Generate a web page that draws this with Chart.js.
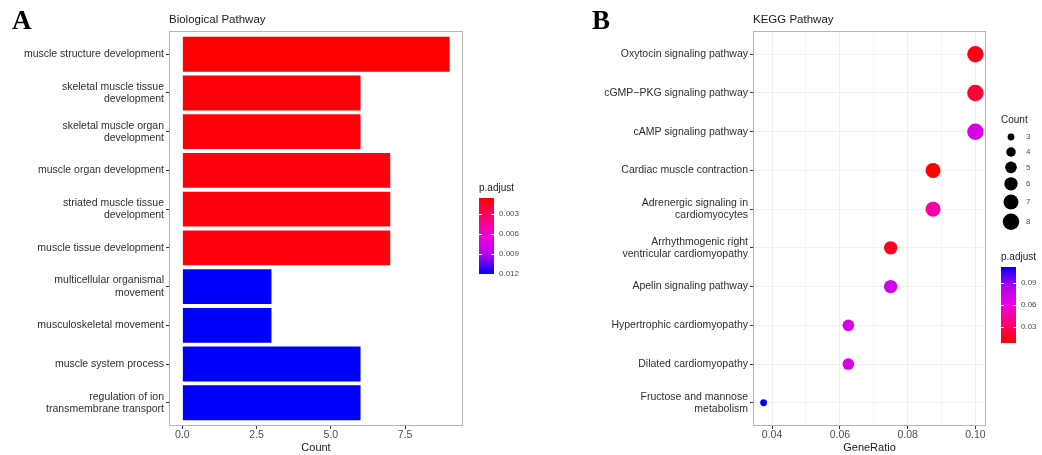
<!DOCTYPE html>
<html><head><meta charset="utf-8">
<script src="https://cdn.jsdelivr.net/npm/chart.js@4.4.1/dist/chart.umd.min.js"></script>
<style>
html,body{margin:0;padding:0;background:#fff;}
#wrap{position:relative;width:1042px;height:455px;overflow:hidden;background:#fff;}
canvas{position:absolute;top:0;}
</style></head><body>
<div id="wrap">
<canvas id="a" width="530" height="455" style="left:0;width:530px;height:455px"></canvas>
<canvas id="b" width="522" height="455" style="left:520px;width:522px;height:455px"></canvas>
</div>
<script>
// ---------- data: Biological Pathway ----------
const bpTerms = [
  "muscle structure development",
  ["skeletal muscle tissue", "development"],
  ["skeletal muscle organ", "development"],
  "muscle organ development",
  ["striated muscle tissue", "development"],
  "muscle tissue development",
  ["multicellular organismal", "movement"],
  "musculoskeletal movement",
  "muscle system process",
  ["regulation of ion", "transmembrane transport"]
];
const bpCount = [9, 6, 6, 7, 7, 7, 3, 3, 6, 6];
const bpPadj = [0.0006, 0.0008, 0.0008, 0.0009, 0.0009, 0.0009, 0.012, 0.012, 0.012, 0.012];
const bpCountTicks = [0, 2.5, 5, 7.5];
const bpPadjTicks = [0.003, 0.006, 0.009, 0.012];

// ---------- data: KEGG Pathway ----------
const keggTerms = [
  "Oxytocin signaling pathway",
  "cGMP\u2212PKG signaling pathway",
  "cAMP signaling pathway",
  "Cardiac muscle contraction",
  ["Adrenergic signaling in", "cardiomyocytes"],
  ["Arrhythmogenic right", "ventricular cardiomyopathy"],
  "Apelin signaling pathway",
  "Hypertrophic cardiomyopathy",
  "Dilated cardiomyopathy",
  ["Fructose and mannose", "metabolism"]
];
const keggRatio = [0.1, 0.1, 0.1, 0.0875, 0.0875, 0.075, 0.075, 0.0625, 0.0625, 0.0375];
const keggCount = [8, 8, 8, 7, 7, 6, 6, 5, 5, 3];
const keggPadj = [0.013, 0.02, 0.07, 0.008, 0.046, 0.015, 0.073, 0.07, 0.07, 0.112];
const keggRatioTicks = [0.04, 0.06, 0.08, 0.10];
const keggPadjTicks = [0.03, 0.06, 0.09];
const countLegend = [3, 4, 5, 6, 7, 8];

// ---------- helpers ----------
const FONT = '"Liberation Sans", Arial, sans-serif';
Chart.defaults.font.family = FONT;
const rampStops = [[0, [255, 0, 0]], [0.25, [255, 0, 112]], [0.5, [240, 0, 224]], [0.75, [176, 0, 240]], [1, [0, 0, 255]]];
function ramp(t) {
  t = Math.max(0, Math.min(1, t));
  for (let i = 1; i < rampStops.length; i++) {
    const [t1, c1] = rampStops[i];
    const [t0, c0] = rampStops[i - 1];
    if (t <= t1) {
      const f = (t - t0) / (t1 - t0);
      const c = c0.map((v, k) => Math.round(v + (c1[k] - v) * f));
      return `rgb(${c[0]},${c[1]},${c[2]})`;
    }
  }
  return 'rgb(0,0,255)';
}
function makeGradient(ctx, x, yLow, yHigh) {
  const g = ctx.createLinearGradient(x, yLow, x, yHigh);
  rampStops.forEach(([t]) => g.addColorStop(t, ramp(t)));
  return g;
}
const bpPmin = Math.min(...bpPadj), bpPmax = Math.max(...bpPadj);
const kgPmin = Math.min(...keggPadj), kgPmax = Math.max(...keggPadj);
const cMin = Math.min(...keggCount), cMax = Math.max(...keggCount);
const R_MIN = 3.4, R_MAX = 8.2;
function radius(c) {
  const a = R_MIN * R_MIN + (c - cMin) / (cMax - cMin) * (R_MAX * R_MAX - R_MIN * R_MIN);
  return Math.sqrt(a);
}
function drawBox(ctx, ca) {
  ctx.save();
  ctx.strokeStyle = '#b5b5b5';
  ctx.lineWidth = 1;
  ctx.strokeRect(Math.round(ca.left) + 0.5, Math.round(ca.top) + 0.5,
    Math.round(ca.right - ca.left) - 1, Math.round(ca.bottom - ca.top) - 1);
  ctx.restore();
}
function drawColorbar(ctx, x, top, h, pmin, pmax, ticks, lowAtTop, labX) {
  const w = 15;
  const yOf = p => lowAtTop ? top + (p - pmin) / (pmax - pmin) * h : top + (pmax - p) / (pmax - pmin) * h;
  ctx.fillStyle = lowAtTop ? makeGradient(ctx, x, top, top + h) : makeGradient(ctx, x, top + h, top);
  ctx.fillRect(x, top, w, h);
  ctx.strokeStyle = '#ffffff';
  ctx.lineWidth = 1;
  ctx.font = '8px ' + FONT;
  ctx.fillStyle = '#4d4d4d';
  ctx.textAlign = 'left';
  ctx.textBaseline = 'middle';
  ticks.forEach(p => {
    const y = Math.round(yOf(p)) + 0.5;
    ctx.beginPath();
    ctx.moveTo(x, y); ctx.lineTo(x + 3, y);
    ctx.moveTo(x + w - 3, y); ctx.lineTo(x + w, y);
    ctx.stroke();
    ctx.fillText(String(p), labX, yOf(p));
  });
}

// ---------- chart A ----------
const bpXmax = Math.max(...bpCount) * 1.05;
const bpXmin = -Math.max(...bpCount) * 0.05;
const decoA = {
  id: 'decoA',
  afterDraw(chart) {
    const ctx = chart.ctx, ca = chart.chartArea;
    drawBox(ctx, ca);
    ctx.save();
    ctx.fillStyle = '#000';
    ctx.textBaseline = 'alphabetic';
    ctx.textAlign = 'left';
    ctx.font = 'bold 27px "Liberation Serif", "Times New Roman", serif';
    ctx.fillText('A', 12, 29);
    ctx.font = '11.5px ' + FONT;
    ctx.fillStyle = '#1a1a1a';
    ctx.textBaseline = 'middle';
    ctx.fillText('Biological Pathway', ca.left, 20);
    ctx.font = '10px ' + FONT;
    ctx.fillText('p.adjust', 479, 188);
    drawColorbar(ctx, 479, 198, 76, bpPmin, bpPmax, bpPadjTicks, true, 499);
    ctx.restore();
  }
};
new Chart(document.getElementById('a'), {
  type: 'bar',
  data: {
    datasets: [{
      data: bpCount.map((c, i) => ({ x: c, y: i })),
      backgroundColor: bpPadj.map(p => ramp((p - bpPmin) / (bpPmax - bpPmin))),
      borderWidth: 0,
      barPercentage: 0.9,
      categoryPercentage: 1
    }]
  },
  options: {
    indexAxis: 'y',
    responsive: false,
    animation: false,
    events: [],
    layout: { padding: { left: 0, top: 31, right: 530 - 463, bottom: 0 } },
    plugins: { legend: { display: false }, tooltip: { enabled: false } },
    scales: {
      x: {
        type: 'linear', min: bpXmin, max: bpXmax, offset: false,
        afterBuildTicks: s => { s.ticks = bpCountTicks.map(v => ({ value: v })); },
        afterFit: s => { s.height = 29; },
        ticks: { callback: v => Number(v).toFixed(1), font: { size: 10.5, lineHeight: 1 }, color: '#4d4d4d', padding: 1, autoSkip: false, maxRotation: 0 },
        grid: { display: true, offset: false, drawOnChartArea: false, tickLength: 3, color: '#333', tickColor: '#333' },
        border: { display: false },
        title: { display: true, text: 'Count', font: { size: 11 }, color: '#1a1a1a', padding: 0 }
      },
      y: {
        type: 'linear', reverse: true, offset: false, min: -0.6, max: bpTerms.length - 1 + 0.6,
        afterBuildTicks: s => { s.ticks = bpTerms.map((_, i) => ({ value: i })); },
        afterFit: s => { s.width = 169; },
        ticks: { callback: v => bpTerms[v], font: { size: 10.5, lineHeight: 1.15 }, color: '#2e2e2e', padding: 2, autoSkip: false },
        grid: { display: true, offset: false, drawOnChartArea: false, tickLength: 3, color: '#333', tickColor: '#333' },
        border: { display: false }
      }
    }
  },
  plugins: [decoA]
});

// ---------- chart B ----------
const OFF = 520;
const kRange = Math.max(...keggRatio) - Math.min(...keggRatio);
const kXmin = Math.min(...keggRatio) - 0.05 * kRange;
const kXmax = Math.max(...keggRatio) + 0.05 * kRange;
const kGrid = [];
keggRatioTicks.forEach((v, i) => {
  kGrid.push(v);
  if (i < keggRatioTicks.length - 1) kGrid.push((v + keggRatioTicks[i + 1]) / 2);
});
const isMajor = v => keggRatioTicks.some(t => Math.abs(t - v) < 1e-9);
const decoB = {
  id: 'decoB',
  afterDraw(chart) {
    const ctx = chart.ctx, ca = chart.chartArea;
    drawBox(ctx, ca);
    ctx.save();
    ctx.fillStyle = '#000';
    ctx.textAlign = 'left';
    ctx.textBaseline = 'alphabetic';
    ctx.font = 'bold 27px "Liberation Serif", "Times New Roman", serif';
    ctx.fillText('B', 592 - OFF, 29);
    ctx.font = '11.5px ' + FONT;
    ctx.fillStyle = '#1a1a1a';
    ctx.textBaseline = 'middle';
    ctx.fillText('KEGG Pathway', ca.left, 20);
    // size legend
    ctx.font = '10px ' + FONT;
    ctx.fillText('Count', 1001 - OFF, 120);
    let y = 137, prevH = null;
    countLegend.forEach(c => {
      const r = radius(c);
      const h = Math.max(15, 2 * r + 4);
      if (prevH !== null) y += (prevH + h) / 2;
      prevH = h;
      ctx.fillStyle = '#000';
      ctx.beginPath();
      ctx.arc(1011 - OFF, y, r, 0, Math.PI * 2);
      ctx.fill();
      ctx.font = '8px ' + FONT;
      ctx.fillStyle = '#4d4d4d';
      ctx.fillText(String(c), 1026 - OFF, y);
    });
    ctx.font = '10px ' + FONT;
    ctx.fillStyle = '#1a1a1a';
    ctx.fillText('p.adjust', 1001 - OFF, 257);
    drawColorbar(ctx, 1001 - OFF, 267, 76, kgPmin, kgPmax, keggPadjTicks, false, 1021 - OFF);
    ctx.restore();
  }
};
new Chart(document.getElementById('b'), {
  type: 'scatter',
  data: {
    datasets: [{
      data: keggRatio.map((r, i) => ({ x: r, y: i })),
      pointRadius: keggCount.map(radius),
      pointBackgroundColor: keggPadj.map(p => ramp((p - kgPmin) / (kgPmax - kgPmin))),
      pointBorderWidth: 0,
      pointHoverRadius: keggCount.map(radius)
    }]
  },
  options: {
    responsive: false,
    animation: false,
    events: [],
    layout: { padding: { left: 0, top: 31, right: 1042 - 986, bottom: 0 } },
    plugins: { legend: { display: false }, tooltip: { enabled: false } },
    scales: {
      x: {
        type: 'linear', min: kXmin, max: kXmax,
        afterBuildTicks: s => { s.ticks = kGrid.map(v => ({ value: v })); },
        afterFit: s => { s.height = 29; },
        ticks: { callback: v => isMajor(v) ? Number(v).toFixed(2) : '', font: { size: 10.5, lineHeight: 1 }, color: '#4d4d4d', padding: 1, autoSkip: false, maxRotation: 0 },
        grid: {
          display: true, drawOnChartArea: true, tickLength: 3,
          color: c => isMajor(c.tick.value) ? '#f0f0f0' : '#f7f7f7',
          tickColor: c => isMajor(c.tick.value) ? '#333' : 'rgba(0,0,0,0)'
        },
        border: { display: false },
        title: { display: true, text: 'GeneRatio', font: { size: 11 }, color: '#1a1a1a', padding: 0 }
      },
      y: {
        type: 'linear', reverse: true, min: -0.6, max: keggTerms.length - 1 + 0.6,
        afterBuildTicks: s => { s.ticks = keggTerms.map((_, i) => ({ value: i })); },
        afterFit: s => { s.width = 753 - OFF; },
        ticks: { callback: v => keggTerms[v], font: { size: 10.5, lineHeight: 1.15 }, color: '#2e2e2e', padding: 2, autoSkip: false },
        grid: { display: true, drawOnChartArea: true, tickLength: 3, color: '#f0f0f0', tickColor: '#333' },
        border: { display: false }
      }
    }
  },
  plugins: [decoB]
});
</script>
</body></html>
